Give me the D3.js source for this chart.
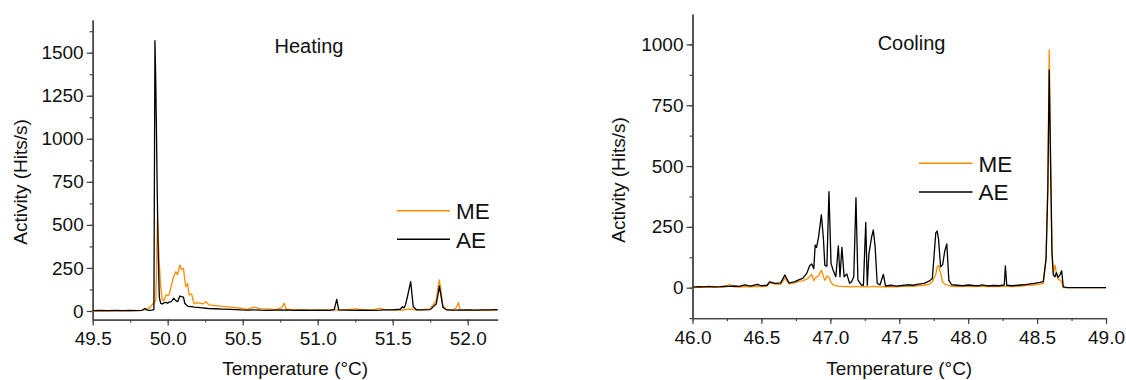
<!DOCTYPE html>
<html lang="en">
<head>
<meta charset="UTF-8">
<title>Heating / Cooling activity</title>
<script src="https://d3js.org/d3.v7.min.js"></script>
<style>
  body { margin: 0; background: #fff; }
  text { font-family: "Liberation Sans", Arial, sans-serif; fill: #111; }
</style>
</head>
<body>
<svg id="chart"></svg>
<script>
const width = 1126, height = 380;

// heating run: temperature grid and the two activity series (Hits/s)
const heatTemp = [49.50,49.55,49.60,49.65,49.70,49.75,49.80,49.83,49.848,49.86,49.88,49.895,49.908,49.915,49.92,49.925,49.931,49.937,49.944,49.953,
  49.964,49.975,49.988,50.00,50.01,50.025,50.039,50.054,50.066,50.081,50.092,50.105,50.114,50.121,50.132,50.143,50.159,50.176,50.198,50.232,
  50.254,50.276,50.32,50.365,50.421,50.487,50.53,50.576,50.62,50.665,50.72,50.76,50.776,50.79,50.84,50.90,50.96,51.02,51.08,51.11,
  51.127,51.14,51.19,51.26,51.30,51.36,51.42,51.44,51.50,51.55,51.565,51.575,51.585,51.60,51.62,51.637,51.66,51.70,51.75,51.79,
  51.805,51.811,51.82,51.835,51.86,51.90,51.925,51.938,51.95,52.00,52.05,52.10,52.15,52.20];
const heatME = [0,1,0,1,2,1,3,5,8,12,20,35,48,55,60,200,538,420,277,141,
  64,60,93,90,95,150,199,228,211,267,241,248,180,141,160,93,99,41,48,41,
  54,35,31,27,23,16,10,23,12,12,8,20,45,10,8,6,7,5,6,6,
  7,5,8,12,6,7,15,8,6,5,6,5,8,10,10,8,6,8,12,60,
  150,180,130,30,8,6,20,48,8,5,4,4,5,5];
const heatAE = [2,3,2,3,2,3,2,4,15,6,4,5,8,1570,1350,1050,650,330,80,45,
  40,48,50,45,52,55,74,60,54,87,84,80,45,38,29,26,25,22,21,18,
  16,14,13,11,9,6,5,7,5,4,5,6,5,6,4,5,3,5,4,8,
  68,6,5,4,5,4,5,6,6,10,25,18,35,90,170,25,6,7,8,40,
  110,145,100,20,6,5,5,6,5,6,5,6,7,8];

// cooling run
const coolTemp = [46.00,46.04,46.08,46.12,46.16,46.20,46.24,46.27,46.30,46.34,46.38,46.42,46.47,46.50,46.54,46.56,46.60,46.64,46.67,46.70,
  46.74,46.77,46.80,46.83,46.85,46.865,46.88,46.89,46.90,46.915,46.935,46.95,46.96,46.975,46.99,47.005,47.02,47.04,47.058,47.07,
  47.084,47.10,47.12,47.14,47.155,47.17,47.186,47.20,47.225,47.24,47.257,47.268,47.28,47.30,47.312,47.325,47.34,47.36,47.385,47.40,
  47.44,47.48,47.52,47.56,47.60,47.64,47.68,47.72,47.74,47.765,47.775,47.785,47.80,47.815,47.83,47.845,47.86,47.88,47.92,47.96,
  48.00,48.04,48.08,48.10,48.14,48.18,48.22,48.25,48.262,48.27,48.28,48.32,48.36,48.40,48.44,48.48,48.52,48.545,48.565,48.578,
  48.588,48.598,48.608,48.618,48.63,48.64,48.652,48.665,48.678,48.69,48.72,48.80,49.00];
const coolME = [0,1,2,1,2,1,2,14,3,2,4,3,6,4,5,20,15,14,40,16,
  20,26,28,36,45,55,28,40,42,50,72,45,30,48,44,22,12,8,6,5,
  5,4,5,3,3,4,5,4,3,3,4,3,3,4,5,4,3,3,4,3,
  4,3,5,6,5,8,10,15,25,55,85,90,60,22,15,12,8,5,4,5,
  5,4,5,6,4,5,4,5,6,6,5,4,6,8,10,12,15,18,110,450,
  977,560,160,60,93,60,35,32,25,0,0,0,0];
const coolAE = [2,4,3,5,3,4,6,5,7,5,12,6,14,8,10,24,18,20,52,20,
  24,32,38,60,90,98,78,175,165,210,300,200,92,88,395,100,72,45,172,45,
  166,45,56,18,25,45,370,32,11,10,268,10,140,210,237,168,18,11,55,7,
  10,6,9,12,10,15,18,28,38,225,233,200,86,95,150,180,30,12,10,8,
  11,9,8,12,7,9,8,10,12,90,10,8,10,12,15,18,22,25,120,400,
  895,500,140,52,45,62,42,52,70,3,0,0,0];

const heatXTicks = [49.5, 50.0, 50.5, 51.0, 51.5, 52.0];
const heatYTicks = [0, 250, 500, 750, 1000, 1250, 1500];
const coolXTicks = [46.0, 46.5, 47.0, 47.5, 48.0, 48.5, 49.0];
const coolYTicks = [0, 250, 500, 750, 1000];

const orange = "#ff8c00", axisColor = "#444";

const svg = d3.select("#chart").attr("width", width).attr("height", height);
svg.append("rect").attr("width", width).attr("height", height).attr("fill", "#fff");

function panel(cfg) {
  const x = d3.scaleLinear().domain(cfg.xDomain).range(cfg.xRange);
  const y = d3.scaleLinear().domain(cfg.yDomain).range(cfg.yRange);
  const g = svg.append("g");
  const x0 = cfg.xRange[0], yb = cfg.yRange[0];

  // minor ticks first, then the labelled axis on top
  const step = cfg.xTicks[1] - cfg.xTicks[0];
  const xMinor = d3.range(cfg.xDomain[0], cfg.xDomain[1] + 1e-6, step / 2);
  const yStep = cfg.yTicks[1] - cfg.yTicks[0];
  const yMinor = d3.range(Math.ceil(cfg.yDomain[0] / (yStep / 2)) * yStep / 2, cfg.yDomain[1], yStep / 2);

  g.append("g").attr("transform", `translate(0,${yb})`)
    .call(d3.axisBottom(x).tickValues(xMinor).tickSize(3).tickFormat("").tickSizeOuter(0));
  g.append("g").attr("transform", `translate(${x0},0)`)
    .call(d3.axisLeft(y).tickValues(yMinor).tickSize(3).tickFormat("").tickSizeOuter(0));

  g.append("g").attr("class", "ax").attr("transform", `translate(0,${yb})`)
    .call(d3.axisBottom(x).tickValues(cfg.xTicks).tickFormat(d3.format(".1f")).tickSize(6).tickPadding(6).tickSizeOuter(0));
  g.append("g").attr("class", "ax").attr("transform", `translate(${x0},0)`)
    .call(d3.axisLeft(y).tickValues(cfg.yTicks).tickFormat(d => d).tickSize(6).tickPadding(3).tickSizeOuter(0));

  g.selectAll(".domain").attr("stroke", axisColor).attr("stroke-width", 1.4);
  g.selectAll(".tick line").attr("stroke", axisColor).attr("stroke-width", 1.2);
  g.selectAll(".ax text").style("font-size", "19px").attr("fill", "#111")
    .style("font-family", '"Liberation Sans", Arial, sans-serif');

  const line = d3.line().x((d, i) => x(cfg.temp[i])).y(d => y(d));
  g.append("path").datum(cfg.me).attr("d", line)
    .attr("fill", "none").attr("stroke", orange).attr("stroke-width", 1.3).attr("stroke-linejoin", "round");
  g.append("path").datum(cfg.ae).attr("d", line)
    .attr("fill", "none").attr("stroke", "#000").attr("stroke-width", 1.3).attr("stroke-linejoin", "round");

  // titles
  g.append("text").attr("x", (cfg.xRange[0] + cfg.xRange[1]) / 2).attr("y", 375)
    .attr("text-anchor", "middle").style("font-size", "19px").text("Temperature (°C)");
  g.append("text").attr("transform", `translate(${cfg.yTitleX},${cfg.yTitleY}) rotate(-90)`)
    .attr("text-anchor", "middle").style("font-size", "19px").text("Activity (Hits/s)");
  g.append("text").attr("x", cfg.label[0]).attr("y", cfg.label[1])
    .attr("text-anchor", "middle").style("font-size", "20px").text(cfg.name);

  // legend
  const lg = cfg.legend;
  [["ME", orange, 0], ["AE", "#000", 1]].forEach(([name, col, i]) => {
    const ly = lg.y + i * lg.gap;
    g.append("line").attr("x1", lg.x1).attr("x2", lg.x2).attr("y1", ly).attr("y2", ly)
      .attr("stroke", col).attr("stroke-width", 1.5);
    g.append("text").attr("x", lg.x2 + 6).attr("y", ly + 8.3)
      .style("font-size", "22.5px").text(name);
  });
}

panel({
  temp: heatTemp, me: heatME, ae: heatAE,
  xDomain: [49.5, 52.2], xRange: [92.7, 497.7],
  yDomain: [-50, 1690], yRange: [319.6, 20],
  xTicks: heatXTicks, yTicks: heatYTicks,
  yTitleX: 27, yTitleY: 182,
  label: [309, 53], name: "Heating",
  legend: { x1: 397, x2: 450, y: 210.7, gap: 28.6 }
});

panel({
  temp: coolTemp, me: coolME, ae: coolAE,
  xDomain: [46, 49], xRange: [692.5, 1106],
  yDomain: [-125, 1125], yRange: [318.1, 14],
  xTicks: coolXTicks, yTicks: coolYTicks,
  yTitleX: 625, yTitleY: 180,
  label: [911.6, 50], name: "Cooling",
  legend: { x1: 919, x2: 972.5, y: 163.3, gap: 28.7 }
});
</script>
</body>
</html>
